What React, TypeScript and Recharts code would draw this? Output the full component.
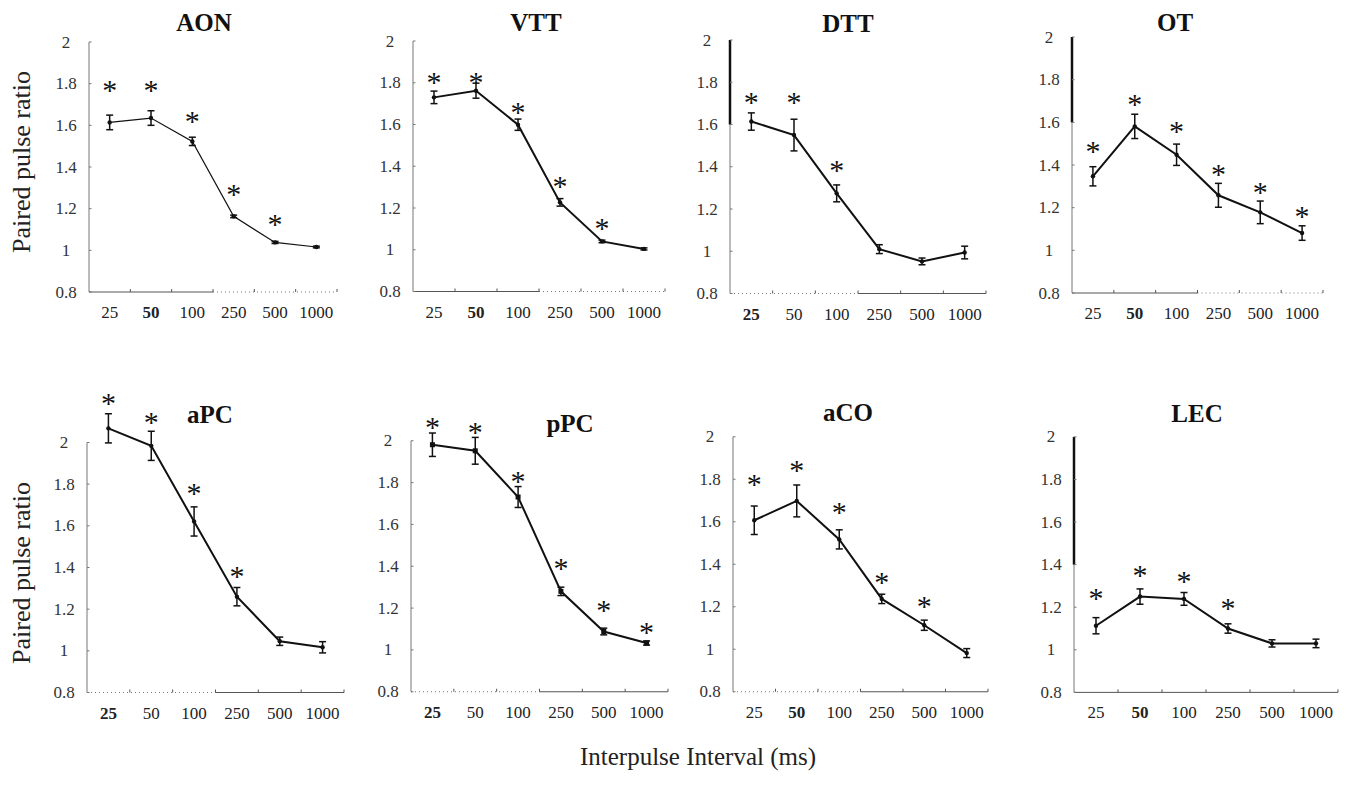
import React from "react";
import { LineChart, Line, XAxis, YAxis, ErrorBar, ReferenceLine } from "recharts";

const FONT = '"Liberation Serif", "Times New Roman", Times, serif';

// ---------- data ----------
const intervals = ["25", "50", "100", "250", "500", "1000"];
const yTicks = [0.8, 1, 1.2, 1.4, 1.6, 1.8, 2];

const aonMean = [1.614, 1.635, 1.523, 1.163, 1.038, 1.016];
const aonErr = [0.035, 0.035, 0.02, 0.006, 0.005, 0.004];
const aonStar = [1.79, 1.79, 1.64, 1.29, 1.144, null];

const vttMean = [1.73, 1.762, 1.599, 1.227, 1.04, 1.004];
const vttErr = [0.03, 0.036, 0.027, 0.018, 0.006, 0.005];
const vttStar = [1.824, 1.824, 1.677, 1.326, 1.123, null];

const dttMean = [1.614, 1.55, 1.274, 1.01, 0.952, 0.994];
const dttErr = [0.041, 0.075, 0.04, 0.021, 0.016, 0.03];
const dttStar = [1.726, 1.726, 1.405, null, null, null];

const otMean = [1.347, 1.581, 1.448, 1.258, 1.178, 1.081];
const otErr = [0.045, 0.057, 0.05, 0.056, 0.053, 0.034];
const otStar = [1.484, 1.703, 1.578, 1.375, 1.294, 1.18];

const apcMean = [2.068, 1.984, 1.621, 1.26, 1.046, 1.017];
const apcErr = [0.07, 0.07, 0.07, 0.044, 0.02, 0.027];
const apcStar = [2.207, 2.12, 1.776, 1.377, null, null];

const ppcMean = [1.981, 1.952, 1.731, 1.28, 1.088, 1.033];
const ppcErr = [0.056, 0.064, 0.05, 0.02, 0.016, 0.01];
const ppcStar = [2.084, 2.06, 1.826, 1.41, 1.211, 1.104];

const acoMean = [1.607, 1.698, 1.517, 1.237, 1.113, 0.982];
const acoErr = [0.067, 0.075, 0.045, 0.022, 0.024, 0.021];
const acoStar = [1.795, 1.863, 1.666, 1.336, 1.221, null];

const lecMean = [1.113, 1.25, 1.239, 1.1, 1.03, 1.03];
const lecErr = [0.038, 0.036, 0.03, 0.022, 0.017, 0.02];
const lecStar = [1.262, 1.372, 1.344, 1.214, null, null];

// ---------- layout / style ----------
type Layout = { axisX: number; y2: number; y08: number; w: number; yMax: number; tx: number; ty: number };
type PanelCfg = {
  name: string;
  mean: number[];
  err: number[];
  star: (number | null)[];
  bold: number;
  layout: Layout;
  lineW: number;
  square?: boolean;
  leftDotted: boolean;
  rightDotted: boolean;
  darkTo: number | null;
};

const panels: PanelCfg[] = [
  { name: "AON", mean: aonMean, err: aonErr, star: aonStar, bold: 1, lineW: 1.2, leftDotted: false, rightDotted: true, darkTo: null,
    layout: { axisX: 89, y2: 42, y08: 292, w: 248, yMax: 2, tx: 204, ty: 22 } },
  { name: "VTT", mean: vttMean, err: vttErr, star: vttStar, bold: 1, lineW: 2, leftDotted: false, rightDotted: true, darkTo: null,
    layout: { axisX: 413, y2: 41, y08: 291.5, w: 252, yMax: 2, tx: 536, ty: 22 } },
  { name: "DTT", mean: dttMean, err: dttErr, star: dttStar, bold: 0, lineW: 2, leftDotted: true, rightDotted: false, darkTo: 1.6,
    layout: { axisX: 730, y2: 39.5, y08: 293, w: 256, yMax: 2, tx: 848, ty: 23 } },
  { name: "OT", mean: otMean, err: otErr, star: otStar, bold: 1, lineW: 2, leftDotted: false, rightDotted: true, darkTo: 1.6,
    layout: { axisX: 1072, y2: 37, y08: 293, w: 251, yMax: 2, tx: 1175, ty: 22 } },
  { name: "aPC", mean: apcMean, err: apcErr, star: apcStar, bold: 0, lineW: 2, leftDotted: true, rightDotted: false, darkTo: null,
    layout: { axisX: 87, y2: 442, y08: 692, w: 257, yMax: 2.3, tx: 210, ty: 414 } },
  { name: "pPC", mean: ppcMean, err: ppcErr, star: ppcStar, bold: 0, lineW: 2, square: true, leftDotted: true, rightDotted: false, darkTo: null,
    layout: { axisX: 411, y2: 441, y08: 692, w: 257, yMax: 2.3, tx: 570, ty: 423 } },
  { name: "aCO", mean: acoMean, err: acoErr, star: acoStar, bold: 1, lineW: 2, leftDotted: true, rightDotted: false, darkTo: null,
    layout: { axisX: 733, y2: 437, y08: 692, w: 255, yMax: 2.3, tx: 848, ty: 412 } },
  { name: "LEC", mean: lecMean, err: lecErr, star: lecStar, bold: 1, lineW: 2, leftDotted: false, rightDotted: false, darkTo: 1.4,
    layout: { axisX: 1074, y2: 437, y08: 692.5, w: 264, yMax: 2.3, tx: 1197, ty: 413 } },
];

const YW = 60;
const XH = 40;
const MT = 30;
const MR = 20;

const serif = { fontFamily: FONT };

function fmt(v: number) {
  return String(Number(v.toFixed(1)));
}

function Panel({ cfg }: { cfg: PanelCfg }) {
  const { axisX, y2, y08, w, yMax } = cfg.layout;
  const unit = (y08 - y2) / 1.2;
  const plotH = (yMax - 0.8) * unit;
  const plotTop = y08 - plotH;
  const left = axisX - YW;
  const top = plotTop - MT;
  const width = YW + w + MR;
  const height = MT + plotH + XH;
  const half = w / 12;

  const data = intervals.map((label, i) => ({
    i,
    label,
    mean: cfg.mean[i],
    err: cfg.err[i],
    star: cfg.star[i],
  }));

  const xTick = (p: any) => {
    const idx = p.payload.value as number;
    return (
      <g key={`xt-${idx}`}>
        <line x1={p.x + half} x2={p.x + half} y1={p.y} y2={p.y - 3} stroke="#555" strokeWidth={1} />
        <text
          x={p.x}
          y={p.y + 26}
          textAnchor="middle"
          style={serif}
          fontSize={17}
          fontWeight={idx === cfg.bold ? 700 : 400}
          fill="#222"
        >
          {intervals[idx]}
        </text>
      </g>
    );
  };

  const yTick = (p: any) => {
    const v = p.payload.value as number;
    return (
      <g key={`yt-${v}`}>
        <line x1={p.x} x2={p.x + 2.5} y1={p.y} y2={p.y} stroke="#777" strokeWidth={1} />
        <text x={p.x - 23} y={p.y + 5.5} textAnchor="middle" style={serif} fontSize={17} fill="#333">
          {fmt(v)}
        </text>
      </g>
    );
  };

  const renderDot = (p: any) => {
    const { cx, cy, index } = p;
    if (cx == null || cy == null) return <g key={`d-${index}`} />;
    if (cfg.square) {
      return <rect key={`d-${index}`} x={cx - 2.5} y={cy - 2.5} width={5} height={5} fill="#111" />;
    }
    return <circle key={`d-${index}`} cx={cx} cy={cy} r={2.2} fill="#111" />;
  };

  const renderStar = (p: any) => {
    const { cx, cy, index, payload } = p;
    if (cx == null || cy == null || payload == null || payload.star == null) return <g key={`s-${index}`} />;
    return (
      <text key={`s-${index}`} x={cx} y={cy + 14} textAnchor="middle" style={serif} fontSize={30} fill="#111">
        *
      </text>
    );
  };

  return (
    <div style={{ position: "absolute", left, top, width, height, fontFamily: FONT }}>
      <LineChart width={width} height={height} data={data} margin={{ top: MT, right: MR, bottom: 0, left: 0 }}>
        <XAxis
          type="number"
          dataKey="i"
          domain={[-0.5, 5.5]}
          ticks={[0, 1, 2, 3, 4, 5]}
          interval={0}
          axisLine={false}
          tickLine={false}
          tickSize={0}
          tickMargin={0}
          height={XH}
          tick={xTick}
        />
        <YAxis
          type="number"
          domain={[0.8, yMax]}
          ticks={yTicks}
          interval={0}
          axisLine={false}
          tickLine={false}
          tickSize={0}
          tickMargin={0}
          width={YW}
          tick={yTick}
        />
        <ReferenceLine
          segment={[{ x: -0.5, y: 0.8 }, { x: 2.5, y: 0.8 }]}
          stroke={cfg.leftDotted ? "#777" : "#555"}
          strokeWidth={1}
          strokeDasharray={cfg.leftDotted ? "1 3" : undefined}
        />
        <ReferenceLine
          segment={[{ x: 2.5, y: 0.8 }, { x: 5.5, y: 0.8 }]}
          stroke={cfg.rightDotted ? "#777" : "#555"}
          strokeWidth={1}
          strokeDasharray={cfg.rightDotted ? "1 3" : undefined}
        />
        <ReferenceLine segment={[{ x: -0.5, y: 0.8 }, { x: -0.5, y: 2 }]} stroke="#777" strokeWidth={1} />
        {cfg.darkTo != null && (
          <ReferenceLine segment={[{ x: -0.5, y: cfg.darkTo }, { x: -0.5, y: 2 }]} stroke="#111" strokeWidth={2.5} />
        )}
        <Line
          type="linear"
          dataKey="mean"
          stroke="#111"
          strokeWidth={cfg.lineW}
          dot={renderDot}
          activeDot={false}
          isAnimationActive={false}
        >
          <ErrorBar dataKey="err" direction="y" width={3.5} stroke="#111" strokeWidth={1.5} />
        </Line>
        <Line
          type="linear"
          dataKey="star"
          stroke="none"
          dot={renderStar}
          activeDot={false}
          isAnimationActive={false}
        />
      </LineChart>
    </div>
  );
}

export default function App() {
  return (
    <div style={{ position: "absolute", left: 0, top: 0, width: 1353, height: 787, background: "#fff", overflow: "hidden", fontFamily: FONT }}>
      <svg width={1353} height={787} style={{ position: "absolute", left: 0, top: 0 }}>
        {panels.map((p) => (
          <text
            key={p.name}
            x={p.layout.tx}
            y={p.layout.ty + 8.5}
            textAnchor="middle"
            style={serif}
            fontSize={25}
            fontWeight={700}
            fill="#111"
          >
            {p.name}
          </text>
        ))}
        <text x={30} y={162} transform="rotate(-90, 30, 162)" textAnchor="middle" style={serif} fontSize={26} fill="#222">
          Paired pulse ratio
        </text>
        <text x={30} y={573} transform="rotate(-90, 30, 573)" textAnchor="middle" style={serif} fontSize={26} fill="#222">
          Paired pulse ratio
        </text>
        <text x={698} y={765} textAnchor="middle" style={serif} fontSize={25} fill="#222">
          Interpulse Interval (ms)
        </text>
      </svg>
      {panels.map((p) => (
        <Panel key={p.name} cfg={p} />
      ))}
    </div>
  );
}
